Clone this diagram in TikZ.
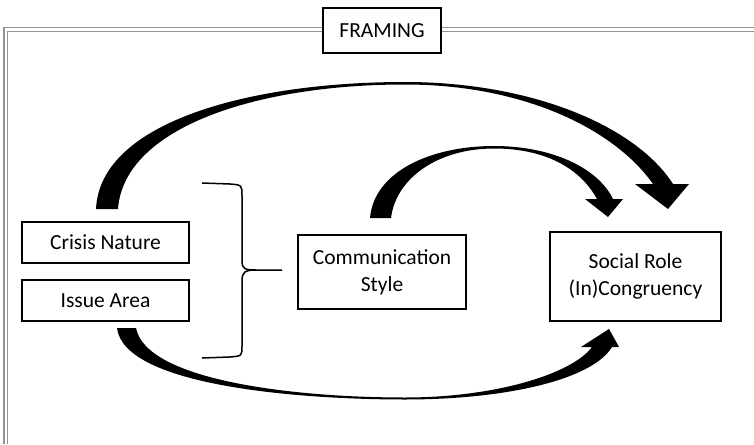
\documentclass[tikz,border=0pt]{standalone}
\usepackage{fontspec}
\setmainfont{Carlito}
\begin{document}
\begin{tikzpicture}[x=1pt,y=-1pt,
  box/.style={draw=black,line width=1.4pt,fill=white,inner sep=0pt,align=center,
    font=\fontsize{21.5}{27}\selectfont},
  framecol/.style={draw=black!42,line width=1.1pt},
  bigarrow/.style={fill=black,draw=none},
  bracestyle/.style={draw=black,line width=1.5pt,line join=round}]
\useasboundingbox (0,0) rectangle (754,444);
% frame (double grey line)
\draw[framecol] (4,444) -- (4,27.5) -- (754,27.5);
\draw[framecol] (7.5,444) -- (7.5,31.5) -- (754,31.5);
% nodes
\node[box,minimum width=118pt,minimum height=45pt] (framing) at (382,30.5) {FRAMING};
\node[box,minimum width=167pt,minimum height=41pt] (crisis) at (105.5,242.5) {Crisis Nature};
\node[box,minimum width=167pt,minimum height=41pt] (issue) at (105.5,300.5) {Issue Area};
\node[box,minimum width=168pt,minimum height=74pt] (comm) at (382,272) {Communication\\Style};
\node[box,minimum width=171pt,minimum height=89pt] (social) at (635.5,276.5) {Social Role\\(In)Congruency};
% brace
\draw[bracestyle] (202,183) -- (230,184) .. controls (242,185) .. (242,196) -- (242,261)
  .. controls (242,269) and (245,270) .. (256,270) -- (282,270);
\draw[bracestyle] (256,270) .. controls (245,270) and (242,272) .. (242,281) -- (242,346)
  .. controls (242,356) .. (230,357) -- (202,358);
% top big arrow: crisis -> social
\fill[bigarrow] (96,209) .. controls (100,122) and (250,82) .. (405,82)
  .. controls (530,82) and (635,125) .. (673,184)
  -- (689,184) -- (668,209) -- (635,184) -- (653,184)
  .. controls (615,130) and (525,84.5) .. (405,84.5)
  .. controls (258,84.5) and (124,127) .. (118,209) -- cycle;
% middle arrow: comm -> social
\fill[bigarrow] (370,218) .. controls (374,172) and (430,146) .. (494,146)
  .. controls (552,146) and (598,168) .. (613,199)
  -- (623,199) -- (608,217) -- (585,199) -- (597,199)
  .. controls (580,168) and (545,148.5) .. (494,148.5)
  .. controls (438,148.5) and (396,178) .. (391,218) -- cycle;
% bottom arrow: issue -> social
\fill[bigarrow] (117,328) .. controls (124,386) and (300,399.5) .. (405,399.5)
  .. controls (505,399.5) and (592,380) .. (612,347)
  -- (619,347) -- (609,329) -- (581,347) -- (592,347)
  .. controls (572,374) and (495,397.5) .. (405,397.5)
  .. controls (292,397.5) and (146,380) .. (136,328) -- cycle;
\end{tikzpicture}
\end{document}
